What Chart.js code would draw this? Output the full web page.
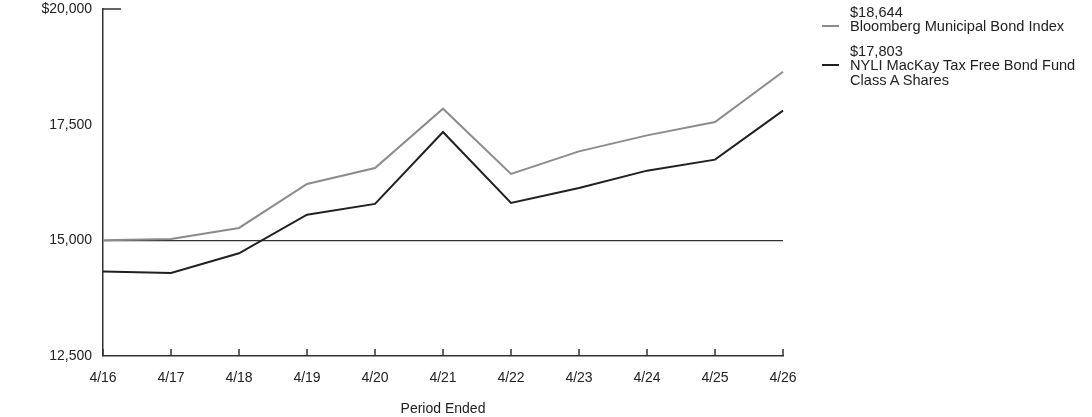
<!DOCTYPE html>
<html>
<head>
<meta charset="utf-8">
<script src="https://cdn.jsdelivr.net/npm/chart.js@4.4.1/dist/chart.umd.min.js"></script>
<style>
    html, body { margin: 0; padding: 0; background: #fff; }
    #wrap { position: relative; width: 1092px; height: 417px; }
    #legend {
        position: absolute; left: 822px; top: 4.5px;
        font: 14.6px Arial, "Liberation Sans", sans-serif; color: #222; line-height: 14.6px;
    }
    .item { position: relative; padding-left: 28px; margin-bottom: 10px; }
    .item .swatch { position: absolute; left: 0; top: 20px; width: 17px; height: 2px; }
</style>
</head>
<body>
<div id="wrap">
    <canvas id="growthChart" width="1092" height="417"></canvas>
    <div id="legend"></div>
</div>
<script>
// valores
const periods = ['4/16', '4/17', '4/18', '4/19', '4/20', '4/21', '4/22', '4/23', '4/24', '4/25', '4/26'];
const indexValues = [15000, 15030, 15268, 16219, 16564, 17846, 16435, 16923, 17269, 17558, 18644];
const fundValues = [14325, 14296, 14719, 15555, 15787, 17342, 15808, 16132, 16506, 16744, 17803];
const yTicks = [12500, 15000, 17500, 20000];
const seriesNames = ['Bloomberg Municipal Bond Index', 'NYLI MacKay Tax Free Bond Fund<br>Class A Shares'];
const seriesColors = ['#8c8c8c', '#231f20'];

const axisColor = '#333';
const fontFamily = 'Arial, "Liberation Sans", sans-serif';

// ===============================
// Marcas do eixo (tick para cima no eixo x, traço no topo do eixo y)
// ===============================
const axisMarks = {
    id: 'axisMarks',
    afterDraw(chart) {
        const ctx = chart.ctx;
        const x = chart.scales.x;
        const y = chart.scales.y;
        const area = chart.chartArea;
        ctx.save();
        ctx.strokeStyle = axisColor;
        ctx.lineWidth = 1.5;
        ctx.beginPath();
        periods.forEach((p, i) => {
            const px = x.getPixelForTick(i);
            ctx.moveTo(px, area.bottom);
            ctx.lineTo(px, area.bottom - 7);
        });
        const topY = y.getPixelForValue(yTicks[yTicks.length - 1]);
        ctx.moveTo(area.left, topY);
        ctx.lineTo(area.left + 18, topY);
        ctx.stroke();
        ctx.restore();
    }
};

new Chart(document.getElementById('growthChart'), {
    type: 'line',
    data: {
        labels: periods,
        datasets: [
            { label: 'Bloomberg Municipal Bond Index', data: indexValues, borderColor: seriesColors[0] },
            { label: 'NYLI MacKay Tax Free Bond Fund Class A Shares', data: fundValues, borderColor: seriesColors[1] }
        ].map(d => Object.assign(d, { borderWidth: 2, pointRadius: 0, tension: 0, fill: false }))
    },
    options: {
        responsive: false,
        animation: false,
        devicePixelRatio: 1,
        layout: { padding: { top: 0, right: 309, left: 0, bottom: 0 } },
        plugins: { legend: { display: false }, tooltip: { enabled: false } },
        scales: {
            x: {
                offset: false,
                grid: { display: false },
                border: { display: true, color: axisColor, width: 1.5 },
                ticks: { color: '#222', font: { family: fontFamily, size: 14 }, padding: 6, maxRotation: 0 },
                title: {
                    display: true, text: 'Period Ended', color: '#222',
                    font: { family: fontFamily, size: 14 }, padding: { top: 0, bottom: -1 }
                },
                afterFit(scale) { scale.height = 61; }
            },
            y: {
                min: yTicks[0],
                max: yTicks[yTicks.length - 1],
                afterBuildTicks(scale) { scale.ticks = yTicks.map(v => ({ value: v })); },
                grid: {
                    drawTicks: false,
                    color: c => (c.tick && c.tick.value === 15000 ? axisColor : 'transparent'),
                    lineWidth: 1.2
                },
                border: { display: true, color: axisColor, width: 1.5 },
                ticks: {
                    color: '#222', font: { family: fontFamily, size: 14 }, padding: 11,
                    callback: v => (v === yTicks[yTicks.length - 1] ? '$' : '') + v.toLocaleString('en-US')
                },
                afterFit(scale) {
                    scale.width = 103;
                    scale.paddingTop = 9;
                    scale.paddingBottom = 0;
                }
            }
        }
    },
    plugins: [axisMarks]
});

// legenda em HTML
const finalValues = [indexValues[indexValues.length - 1], fundValues[fundValues.length - 1]];
document.getElementById('legend').innerHTML = seriesNames.map((name, i) =>
    `<div class="item"><span class="swatch" style="background:${seriesColors[i]}"></span>` +
    `$${finalValues[i].toLocaleString('en-US')}<br>${name}</div>`
).join('');
</script>
</body>
</html>
